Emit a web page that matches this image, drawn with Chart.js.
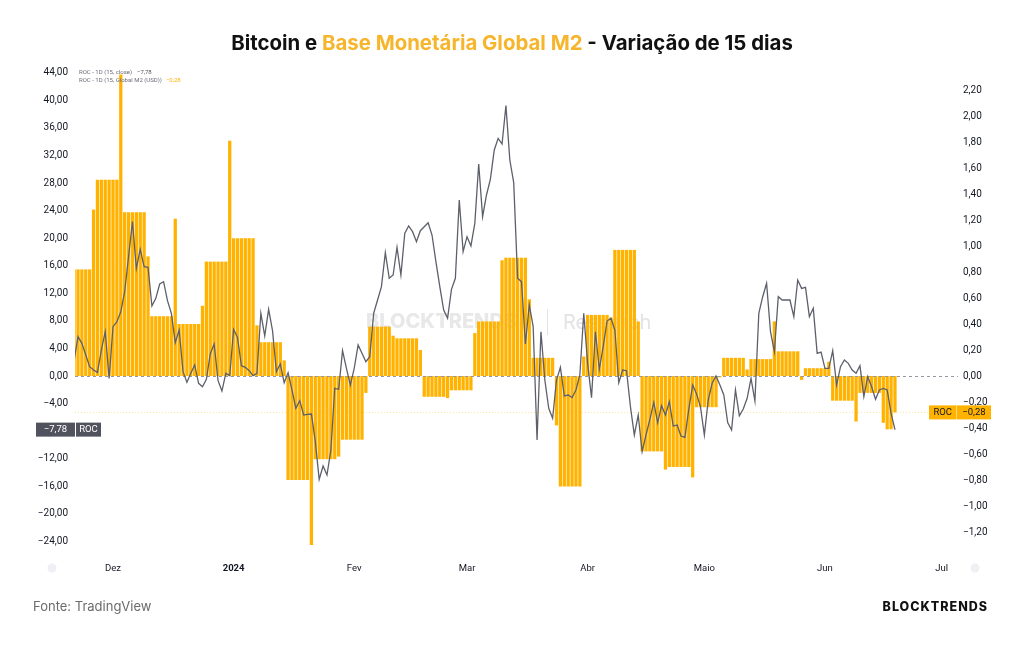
<!DOCTYPE html>
<html lang="pt">

<head>
    <meta charset="UTF-8">
    <title>Bitcoin e Base Monetária Global M2</title>
    <script src="https://cdn.jsdelivr.net/npm/chart.js"></script>
    <style>
        body {
            margin: 0;
            padding: 0;
            background: #ffffff;
        }

        .page {
            position: relative;
            width: 1024px;
            height: 645px;
            overflow: hidden;
            background: #ffffff;
        }

        #chart {
            position: absolute;
            left: 0;
            top: 0;
        }

        .title {
            position: absolute;
            left: 0;
            top: 31px;
            width: 1024px;
            text-align: center;
            font-family: 'Inter', sans-serif;
            font-weight: 700;
            font-size: 20.4px;
            line-height: 24px;
            color: #111111;
        }

        .title span {
            color: #f7b52c;
        }

        .source {
            position: absolute;
            left: 33px;
            top: 598px;
            font-family: 'Inter', sans-serif;
            font-size: 13px;
            color: #6b6b6b;
        }

        .brand {
            position: absolute;
            right: 36px;
            top: 599px;
            font-family: 'Inter', sans-serif;
            font-weight: 800;
            font-size: 12.5px;
            letter-spacing: 1px;
            color: #111111;
        }
    </style>
</head>

<body>
    <div class="page">
        <canvas id="chart" width="1024" height="645"></canvas>
        <div class="title">Bitcoin e <span>Base Monetária Global M2</span> - Variação de 15 dias</div>
        <div class="source">Fonte: TradingView</div>
        <div class="brand">BLOCKTRENDS</div>
    </div>

    <script>
        // one value per calendar day, index 0 = 21 Nov 2023, last = 19 Jun 2024
        const startDate = '2023-11-21';

        // ROC 15d of BTC close (left axis, %)
        const btcRoc = [
            2.26,
            5.71, 4.74, 3.05, 1.35, 0.87, 0.53, 3.77,
            6.43, -0.34, 7.16, 7.88, 9.33, 12.24, 17.32,
            22.40, 15.63, 18.39, 15.87, 15.77, 10.16, 11.27,
            13.35, 13.69, 10.93, 9.10, 4.84, 6.68, 0.63,
            -0.92, 0.39, 1.60, -1.06, -1.55, -0.48, 3.19,
            4.64, -0.68, -2.18, 0.39, 0.05, 6.77, 5.60,
            1.50, 1.26, 0.77, 0.05, 0.39, 9.10, 5.81,
            9.68, 6.58, 0.63, 1.74, -0.97, 0.48, -2.03,
            -4.69, -3.58, -5.66, -5.56, -5.52, -9.53, -15.00,
            -13.06, -14.37, -10.74, -1.79, -1.93, 3.68, 1.11,
            -1.31, 1.11, 4.50, 3.29, 2.08, 2.81, 9.10,
            11.03, 12.97, 17.90, 14.18, 14.66, 18.67, 14.66,
            20.71, 21.77, 20.95, 19.50, 21.09, 21.67, 22.25,
            20.46, 16.59, 12.97, 9.58, 8.37, 12.58, 14.18,
            25.54, 18.05, 20.22, 18.87, 22.16, 30.77, 23.12,
            26.27, 28.54, 32.80, 34.49, 33.67, 39.24, 31.35,
            28.06, 14.18, 13.69, 4.64, 10.30, 7.16, -9.29,
            6.43, -0.58, -4.69, -6.14, -0.58, 1.26, -2.90,
            -2.76, -3.14, -2.03, 0.15, 9.10, 1.84, -3.14,
            6.43, 0.97, 4.26, 7.98, 8.37, 6.68, -0.97,
            0.87, 0.77, -4.45, -8.56, -5.66, -10.98, -8.56,
            -6.29, -3.82, -6.77, -4.31, -5.66, -3.72, -7.26,
            -7.11, -8.71, -8.90, -4.84, -1.31, -2.61, -4.45,
            -8.56, -3.48, -1.06, 0.00, -1.31, -2.76, -6.77,
            -7.84, -2.03, -5.76, -4.79, -3.24, -0.34, -3.63,
            9.10, 11.51, 13.45, 6.43, 3.53, 11.51, 11.03,
            11.03, 11.03, 8.61, 13.93, 12.72, 12.87, 8.61,
            9.82, 3.29, 3.48, 1.11, 1.11, 3.68, -1.31,
            1.35, 2.32, 1.84, 0.87, 0.39, 1.50, -3.00,
            -0.10, -1.55, -3.38, -2.03, -1.79, -2.03, -5.42,
            -7.78
        ];

        // ROC 15d of Global M2 in USD (right axis, %)
        const m2Roc = [
            0.82, 0.82, 0.82, 0.82, 0.82,
            1.28, 1.51, 1.51, 1.51, 1.51, 1.51, 1.51,
            2.32, 1.26, 1.26, 1.26, 1.26, 1.26, 1.26,
            0.92, 0.46, 0.46, 0.46, 0.46, 0.46, 0.46,
            1.21, 0.40, 0.40, 0.40, 0.40, 0.40, 0.40,
            0.54, 0.88, 0.88, 0.88, 0.88, 0.88, 0.88,
            1.81, 1.06, 1.06, 1.06, 1.06, 1.06, 1.06,
            0.39, 0.26, 0.26, 0.26, 0.26, 0.26, 0.26,
            0.12, -0.80, -0.80, -0.80, -0.80, -0.80, -0.80,
            -1.30, -0.64, -0.64, -0.64, -0.64, -0.64, -0.64,
            -0.62, -0.49, -0.49, -0.49, -0.49, -0.49, -0.49,
            -0.13, 0.38, 0.38, 0.38, 0.38, 0.38, 0.38,
            0.31, 0.29, 0.29, 0.29, 0.29, 0.29, 0.29,
            0.20, -0.16, -0.16, -0.16, -0.16, -0.16, -0.16,
            -0.17, -0.11, -0.11, -0.11, -0.11, -0.11, -0.11,
            0.33, 0.42, 0.42, 0.42, 0.42, 0.42, 0.42,
            0.89, 0.91, 0.91, 0.91, 0.91, 0.91, 0.91,
            0.59, 0.14, 0.14, 0.14, 0.14, 0.14, 0.14,
            -0.38, -0.85, -0.85, -0.85, -0.85, -0.85, -0.85,
            0.15, 0.47, 0.47, 0.47, 0.47, 0.47, 0.47,
            0.45, 0.97, 0.97, 0.97, 0.97, 0.97, 0.97,
            0.42, -0.58, -0.58, -0.58, -0.58, -0.58, -0.58,
            -0.72, -0.70, -0.70, -0.70, -0.70, -0.70, -0.70,
            -0.78, -0.24, -0.24, -0.24, -0.24, -0.24, -0.24,
            -0.01, 0.14, 0.14, 0.14, 0.14, 0.14, 0.14,
            0.05, 0.13, 0.13, 0.13, 0.13, 0.13, 0.13,
            0.42, 0.19, 0.19, 0.19, 0.19, 0.19, 0.19,
            -0.03, 0.06, 0.06, 0.06, 0.06, 0.06, 0.06,
            0.11, -0.19, -0.19, -0.19, -0.19, -0.19, -0.19,
            -0.35, -0.13, -0.13, -0.13, -0.13, -0.13, -0.13,
            -0.36, -0.41, -0.41, -0.28
        ];

        // x axis: day index of the first day of each month
        const monthTickIdx = [10, 41, 72, 101, 132, 162, 193, 223];
        const monthTickLabels = ['Dez', '2024', 'Fev', 'Mar', 'Abr', 'Maio', 'Jun', 'Jul'];

        const leftTicks = [-24, -20, -16, -12, -8, -4, 0, 4, 8, 12, 16, 20, 24, 28, 32, 36, 40, 44];
        const rightTicks = [-1.2, -1.0, -0.8, -0.6, -0.4, -0.2, 0, 0.2, 0.4, 0.6, 0.8, 1.0, 1.2, 1.4, 1.6, 1.8, 2.0, 2.2];

        const lastBtc = btcRoc[btcRoc.length - 1];
        const lastM2 = m2Roc[m2Roc.length - 1];

        const ORANGE = '#ffb300';
        const GREY_LINE = '#5d606b';
        const TICK_FONT = 'Roboto, sans-serif';

        // 1,5 -> "1,50", -4 -> "−4,00"
        function fmt(v) {
            let s = Math.abs(v).toFixed(2).replace('.', ',');
            if (v < -0.0001) s = '\u2212' + s;
            return s;
        }

        function badge(ctx, x, y, w, h, bg, fg, text) {
            ctx.fillStyle = bg;
            ctx.fillRect(x, y, w, h);
            ctx.fillStyle = fg;
            ctx.textAlign = 'center';
            ctx.textBaseline = 'middle';
            ctx.fillText(text, x + w / 2, y + h / 2 + 0.5);
        }

        const overlay = {
            id: 'overlay',
            beforeDatasetsDraw(chart) {
                const ctx = chart.ctx;
                const area = chart.chartArea;
                ctx.save();
                // watermark
                ctx.textBaseline = 'middle';
                ctx.textAlign = 'left';
                ctx.fillStyle = '#e8e8e8';
                ctx.font = '800 20px Inter, sans-serif';
                ctx.fillText('BLOCKTRENDS', 366, 322);
                ctx.fillStyle = '#e3e3e3';
                ctx.fillRect(547, 309, 1, 26);
                ctx.font = '400 20px Inter, sans-serif';
                ctx.fillText('Research', 563, 323);

                // price line of last M2 value
                const yM2 = chart.scales.yR.getPixelForValue(lastM2);
                ctx.strokeStyle = 'rgba(255, 179, 0, 0.35)';
                ctx.lineWidth = 1;
                ctx.setLineDash([1, 2]);
                ctx.beginPath();
                ctx.moveTo(area.left, Math.round(yM2) + 0.5);
                ctx.lineTo(area.right, Math.round(yM2) + 0.5);
                ctx.stroke();
                ctx.restore();
            },
            afterDatasetDraw(chart, args) {
                // zero line sits between the bars and the BTC line
                if (args.index !== 1) return;
                const ctx = chart.ctx;
                const area = chart.chartArea;
                const y0 = Math.round(chart.scales.yR.getPixelForValue(0)) + 0.5;
                ctx.save();
                ctx.strokeStyle = '#9598a1';
                ctx.lineWidth = 1;
                ctx.setLineDash([3, 3]);
                ctx.beginPath();
                ctx.moveTo(area.left, y0);
                ctx.lineTo(area.right, y0);
                ctx.stroke();
                ctx.restore();
            },
            afterDraw(chart) {
                const ctx = chart.ctx;
                ctx.save();

                // legend lines top-left
                ctx.font = '6px Roboto, sans-serif';
                ctx.textBaseline = 'middle';
                ctx.textAlign = 'left';
                ctx.fillStyle = '#6a6d78';
                const l1 = 'ROC - 1D (15, close)';
                const l2 = 'ROC - 1D (15, Global M2 (USD))';
                ctx.fillText(l1, 79, 72);
                ctx.fillText(l2, 79, 80.5);
                ctx.fillStyle = '#50535e';
                ctx.fillText(fmt(lastBtc), 79 + ctx.measureText(l1).width + 5, 72);
                ctx.fillStyle = ORANGE;
                ctx.fillText(fmt(lastM2), 79 + ctx.measureText(l2).width + 4, 80.5);

                // last value badges
                ctx.font = '9.5px Roboto, sans-serif';
                const yB = chart.scales.yL.getPixelForValue(lastBtc);
                badge(ctx, 36, yB - 7, 39, 14, '#50535e', '#ffffff', fmt(lastBtc));
                badge(ctx, 76, yB - 7, 25, 14, '#50535e', '#ffffff', 'ROC');
                const yM = chart.scales.yR.getPixelForValue(lastM2);
                badge(ctx, 929, yM - 7, 27.5, 14, ORANGE, '#131722', 'ROC');
                badge(ctx, 957, yM - 7, 34, 14, ORANGE, '#131722', fmt(lastM2));

                // little scroll buttons at the ends of the time axis
                ctx.fillStyle = '#eef0f4';
                [52, 975].forEach(function (x) {
                    ctx.beginPath();
                    ctx.arc(x, 568, 4.5, 0, Math.PI * 2);
                    ctx.fill();
                });
                ctx.restore();
            }
        };

        const ctx = document.getElementById('chart').getContext('2d');
        new Chart(ctx, {
            type: 'bar',
            data: {
                datasets: [
                    {
                        type: 'line',
                        label: 'ROC - 1D (15, close)',
                        data: btcRoc.map((v, i) => ({ x: i, y: v })),
                        yAxisID: 'yL',
                        borderColor: GREY_LINE,
                        borderWidth: 1.3,
                        pointRadius: 0,
                        tension: 0,
                        order: 0
                    },
                    {
                        type: 'bar',
                        label: 'ROC - 1D (15, Global M2 (USD))',
                        data: m2Roc.map((v, i) => ({ x: i, y: v })),
                        yAxisID: 'yR',
                        backgroundColor: ORANGE,
                        categoryPercentage: 1,
                        barPercentage: 0.84,
                        order: 1
                    }
                ]
            },
            options: {
                responsive: false,
                animation: false,
                layout: { padding: { top: 62, bottom: 59, left: 0, right: 0 } },
                plugins: {
                    legend: { display: false },
                    tooltip: { enabled: false }
                },
                scales: {
                    x: {
                        type: 'linear',
                        offset: false,
                        min: 0.23,
                        max: 227.2,
                        grid: { display: false, drawTicks: false },
                        border: { display: false },
                        afterBuildTicks(scale) {
                            scale.ticks = monthTickIdx.map(v => ({ value: v }));
                        },
                        afterFit(scale) { scale.height = 30; },
                        ticks: {
                            autoSkip: false,
                            maxRotation: 0,
                            padding: 7,
                            color: '#131722',
                            font: (c) => ({
                                family: TICK_FONT,
                                size: 9.5,
                                weight: c.tick && c.tick.value === 41 ? 'bold' : 'normal'
                            }),
                            callback: (v) => monthTickLabels[monthTickIdx.indexOf(v)]
                        }
                    },
                    yL: {
                        position: 'left',
                        min: -26.12,
                        max: 45.57,
                        grid: { display: false, drawTicks: false },
                        border: { display: false },
                        afterBuildTicks(scale) {
                            scale.ticks = leftTicks.map(v => ({ value: v }));
                        },
                        afterFit(scale) { scale.width = 75; },
                        ticks: {
                            padding: 7,
                            color: '#131722',
                            font: { family: TICK_FONT, size: 10 },
                            callback: (v) => fmt(v)
                        }
                    },
                    yR: {
                        position: 'right',
                        min: -1.3846,
                        max: 2.4154,
                        grid: { display: false, drawTicks: false },
                        border: { display: false },
                        afterBuildTicks(scale) {
                            scale.ticks = rightTicks.map(v => ({ value: v }));
                        },
                        afterFit(scale) { scale.width = 66; },
                        ticks: {
                            padding: 5,
                            color: '#131722',
                            font: { family: TICK_FONT, size: 10 },
                            callback: (v) => fmt(v)
                        }
                    }
                }
            },
            plugins: [overlay]
        });
    </script>
</body>

</html>
